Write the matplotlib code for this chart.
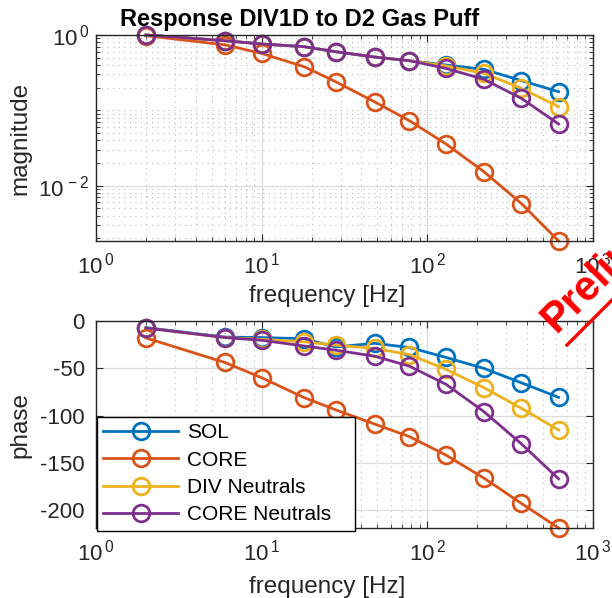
import numpy as np
import matplotlib
matplotlib.use("Agg")
import matplotlib.pyplot as plt
from matplotlib.ticker import LogLocator, FixedLocator, NullFormatter
from matplotlib.lines import Line2D

plt.rcParams['font.family'] = ['Liberation Sans', 'DejaVu Sans']
plt.rcParams['mathtext.fontset'] = 'custom'
plt.rcParams['mathtext.rm'] = 'Liberation Sans'
plt.rcParams['mathtext.it'] = 'Liberation Sans:italic'
plt.rcParams['mathtext.bf'] = 'Liberation Sans:bold'
plt.rcParams['axes.unicode_minus'] = False

# ---- data ----
freq = [2, 6, 10, 18, 28, 48, 78, 130, 220, 370, 620]
series_names = ["SOL", "CORE", "DIV Neutrals", "CORE Neutrals"]
mag_sol = [1.0, 0.84, 0.76, 0.70, 0.60, 0.51, 0.456, 0.40, 0.35, 0.248, 0.177]
mag_core = [0.98, 0.74, 0.57, 0.38, 0.24, 0.13, 0.073, 0.0357, 0.0153, 0.0058, 0.00185]
mag_div = [1.0, 0.84, 0.76, 0.70, 0.60, 0.51, 0.456, 0.388, 0.31, 0.196, 0.112]
mag_cn = [1.0, 0.84, 0.76, 0.70, 0.60, 0.51, 0.456, 0.36, 0.258, 0.144, 0.066]
ph_sol = [-7, -17, -17.5, -18.8, -27.5, -23.6, -28, -38.6, -50.2, -65.4, -80.8]
ph_core = [-17.9, -43.9, -60, -81, -94, -109, -122.3, -142, -166.3, -193, -219]
ph_div = [-7.5, -17.5, -19.5, -22, -25.6, -29, -35.5, -51.3, -70.6, -92.4, -115.3]
ph_cn = [-7.4, -17.5, -20.4, -26.4, -30.9, -37.2, -47.8, -67.1, -96, -130, -167]
x_ticks = [1, 10, 100, 1000]
x_ticklabels = [r'$\mathregular{10^{\,0}}$', r'$\mathregular{10^{\,1}}$',
                r'$\mathregular{10^{\,2}}$', r'$\mathregular{10^{\,3}}$']
mag_ticks = [1e-2, 1]
mag_ticklabels = [r'$\mathregular{10^{\,-2}}$', r'$\mathregular{10^{\,0}}$']
ph_ticks = [-200, -150, -100, -50, 0]
ph_ticklabels = ["-200", "-150", "-100", "-50", "0"]

colors = ["#0072BD", "#D95319", "#EDB120", "#7E2F8E"]
mags = [mag_sol, mag_core, mag_div, mag_cn]
phases = [ph_sol, ph_core, ph_div, ph_cn]

W, H = 612, 598
fig = plt.figure(figsize=(W / 100, H / 100), dpi=100)

def px_axes(l, t, r, b):
    return fig.add_axes([l / W, 1 - b / H, (r - l) / W, (b - t) / H])

ax1 = px_axes(96, 35, 593, 241)
ax2 = px_axes(96, 321, 593, 528)

axcol = "#262626"
for ax in (ax1, ax2):
    ax.set_xscale('log')
    ax.set_xlim(1, 1000)
    ax.set_xticks(x_ticks)
    ax.set_xticklabels(x_ticklabels)
    ax.xaxis.set_minor_locator(LogLocator(base=10, subs=np.arange(2, 10), numticks=20))
    ax.xaxis.set_minor_formatter(NullFormatter())
    for s in ax.spines.values():
        s.set_color(axcol)
        s.set_linewidth(1.0)
    ax.tick_params(which='both', direction='in', top=True, right=True, colors=axcol,
                   labelcolor=axcol, labelsize=16)
    ax.tick_params(which='major', length=5, width=0.8)
    ax.tick_params(which='minor', length=3, width=0.6)
    ax.tick_params(axis='x', which='major', pad=8)
    ax.grid(which='major', color='#dcdcdc', linewidth=0.9, linestyle='-')
    ax.set_axisbelow(True)

ax1.grid(which='minor', color='#bdbdbd', linewidth=0.8, linestyle=(0, (1, 4)))
ax2.xaxis.grid(which='minor', color='#bdbdbd', linewidth=0.8, linestyle=(0, (1, 4)))

for name, c, m in zip(series_names, colors, mags):
    ax1.plot(freq, m, '-o', color=c, lw=2.0, ms=12, mew=2.0, mfc='none', clip_on=False, label=name)
for name, c, p in zip(series_names, colors, phases):
    ax2.plot(freq, p, '-o', color=c, lw=2.0, ms=12, mew=2.0, mfc='none', clip_on=False, label=name)

ax1.set_yscale('log')
allmag = np.concatenate([np.array(m) for m in mags])
ax1.set_ylim(allmag.min(), allmag.max())
ax1.yaxis.set_major_locator(FixedLocator(mag_ticks))
ax1.set_yticklabels(mag_ticklabels)
ax1.yaxis.set_minor_locator(LogLocator(base=10, subs=np.arange(1, 10), numticks=30))
ax1.yaxis.set_minor_formatter(NullFormatter())
ax1.tick_params(axis='y', which='major', pad=5)

allph = np.concatenate([np.array(p) for p in phases])
ax2.set_ylim(allph.min(), 0)
ax2.set_yticks(ph_ticks)
ax2.set_yticklabels(ph_ticklabels)
ax2.tick_params(axis='y', which='major', pad=8)

for ax, lab in ((ax1, "magnitude"), (ax2, "phase")):
    ax.set_ylabel(lab, fontsize=17.5, color=axcol)
    ax.yaxis.set_label_coords(-0.13, 0.5)
    ax.set_xlabel("frequency [Hz]", fontsize=17.5, color=axcol, va='top')
ax1.xaxis.set_label_coords(0.465, -0.215)
ax2.xaxis.set_label_coords(0.465, -0.232)

fig.text(300 / W, 1 - 26 / H, "Response DIV1D to D2 Gas Puff", ha='center', va='baseline',
         fontsize=17, fontweight='bold', color='black')

leg = ax2.legend(loc='upper left', bbox_to_anchor=(0.002, 0.0, 0.519, 0.536), mode='expand',
                 fontsize=15, frameon=True, fancybox=False, framealpha=1, edgecolor='black',
                 handlelength=3.6, handletextpad=0.4, labelspacing=0.4,
                 borderpad=0.3, borderaxespad=0.0)
leg.get_frame().set_linewidth(1.0)

# watermark
fig.text(556 / W, 1 - 334 / H, "Preliminary", rotation=45, rotation_mode='anchor',
         ha='left', va='baseline', color='red', fontsize=30, fontweight='bold')
fig.add_artist(Line2D([567 / W, 630 / W], [1 - 345 / H, 1 - 282 / H], color='red', lw=2.4,
                      transform=fig.transFigure))

fig.savefig("out.png", dpi=100)
